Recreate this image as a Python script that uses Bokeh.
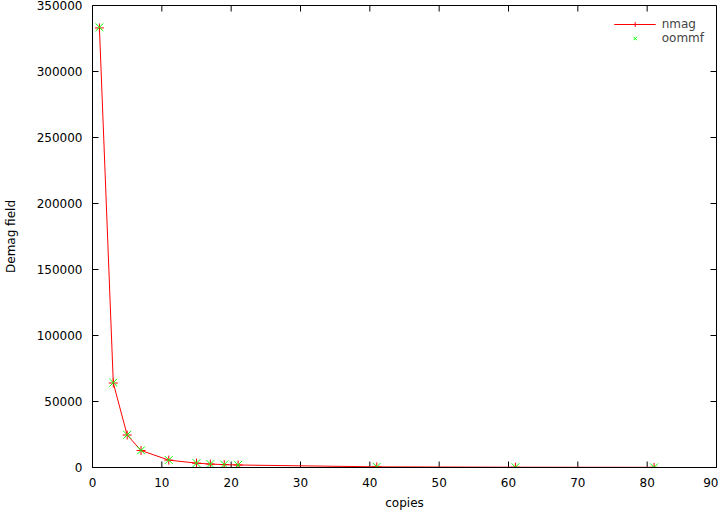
from bokeh.plotting import figure
from bokeh.models import (Range1d, FixedTicker, BasicTickFormatter,
                          Legend, LegendItem)
from bokeh.embed import file_html
from bokeh.resources import INLINE

# ---- data ----
copies = [1, 3, 5, 7, 11, 15, 17, 19, 21, 41, 61, 81]
nmag = [333000, 64000, 24600, 12900, 5600, 3300, 2600, 2200, 1900, 500, 220, 120]
oommf = [333500, 64300, 24800, 13000, 5700, 3350, 2650, 2250, 1950, 510, 225, 125]
x_ticks = [0, 10, 20, 30, 40, 50, 60, 70, 80, 90]
y_ticks = [0, 50000, 100000, 150000, 200000, 250000, 300000, 350000]
x_min, x_max = 0, 90
y_min, y_max = 0, 350000

FONT = "DejaVu Sans"
FS = "12px"
FW, FH = 624, 462          # frame size in px
TL = 6                     # inward tick length in px

p = figure(frame_width=FW, frame_height=FH, output_backend="svg", toolbar_location=None,
           x_range=Range1d(x_min, x_max), y_range=Range1d(y_min, y_max),
           min_border_left=84, min_border_right=2, min_border_top=5,
           min_border_bottom=44)
p.background_fill_color = "white"
p.border_fill_color = "white"
p.outline_line_color = "black"
p.outline_line_width = 1
p.xgrid.visible = False
p.ygrid.visible = False

fmt = BasicTickFormatter(use_scientific=False)

xa = p.xaxis[0]
xa.ticker = FixedTicker(ticks=x_ticks)
xa.formatter = fmt
ya = p.yaxis[0]
ya.ticker = FixedTicker(ticks=y_ticks)
ya.formatter = fmt

for ax in (xa, ya):
    ax.major_tick_in = 0
    ax.major_tick_out = 0
    ax.major_tick_line_color = None
    ax.minor_tick_line_color = None
    ax.axis_line_color = "black"
    ax.major_label_text_font = FONT
    ax.major_label_text_font_size = FS
    ax.major_label_text_color = "black"
    ax.axis_label_text_font = FONT
    ax.axis_label_text_font_size = FS
    ax.axis_label_text_font_style = "normal"
    ax.axis_label_text_color = "black"

xa.axis_label = "copies"
xa.major_label_standoff = 10
xa.axis_label_standoff = 6
ya.axis_label = "Demag field"
ya.major_label_standoff = 10
ya.axis_label_standoff = 16

# inward ticks on all four sides (gnuplot style)
dy = TL * (y_max - y_min) / FH
dx = TL * (x_max - x_min) / FW
nx, ny = len(x_ticks), len(y_ticks)
p.segment(x0=x_ticks, y0=[y_min] * nx, x1=x_ticks, y1=[y_min + dy] * nx,
          line_color="black", line_width=1)
p.segment(x0=x_ticks, y0=[y_max] * nx, x1=x_ticks, y1=[y_max - dy] * nx,
          line_color="black", line_width=1)
p.segment(x0=[x_min] * ny, y0=y_ticks, x1=[x_min + dx] * ny, y1=y_ticks,
          line_color="black", line_width=1)
p.segment(x0=[x_max] * ny, y0=y_ticks, x1=[x_max - dx] * ny, y1=y_ticks,
          line_color="black", line_width=1)

ln = p.line(copies, nmag, line_color="#ff0000", line_width=1)
pl = p.scatter(copies, nmag, marker="cross", size=9, line_color="#ff0000", line_width=1)
ox = p.scatter(copies, oommf, marker="x", size=11, line_color="#00ff00", line_width=1)

legend = Legend(items=[LegendItem(label="nmag", renderers=[ln, pl]),
                       LegendItem(label="oommf", renderers=[ox])],
                location="top_right", glyph_width=42, glyph_height=12,
                label_standoff=6, spacing=0, padding=4, margin=12,
                border_line_color=None, background_fill_alpha=0,
                label_text_font=FONT, label_text_font_size=FS,
                label_height=12)
p.add_layout(legend, "center")

open("out.html", "w").write(file_html(p, INLINE))
